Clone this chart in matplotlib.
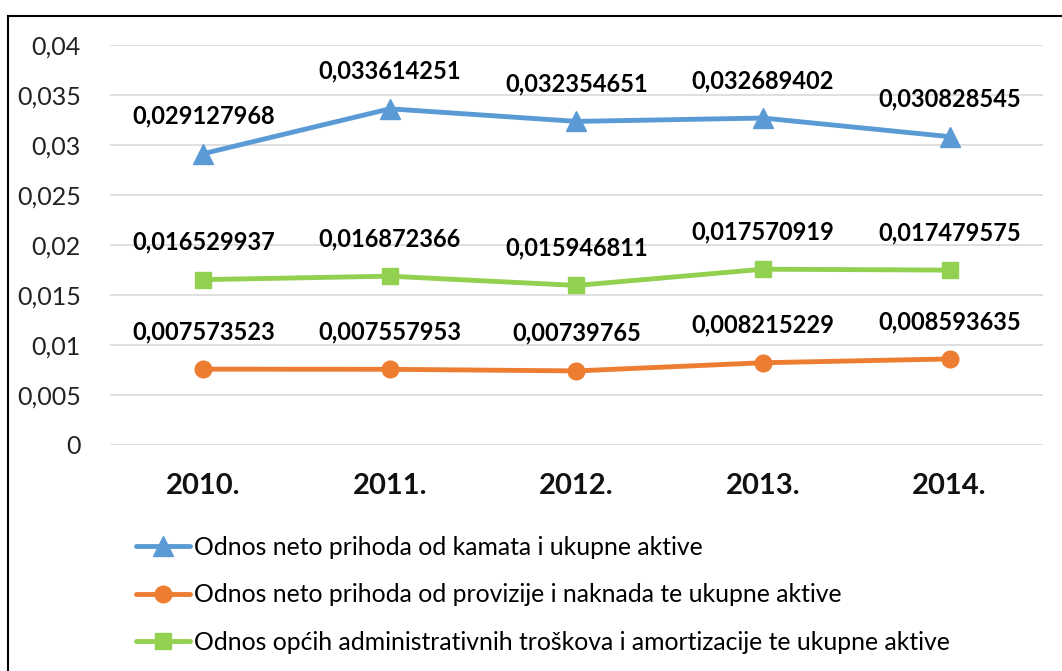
import matplotlib
matplotlib.use("Agg")
import matplotlib.pyplot as plt
from matplotlib.lines import Line2D

years = ["2010.", "2011.", "2012.", "2013.", "2014."]
kamata = [0.029127968, 0.033614251, 0.032354651, 0.032689402, 0.030828545]
provizije = [0.007573523, 0.007557953, 0.00739765, 0.008215229, 0.008593635]
troskovi = [0.016529937, 0.016872366, 0.015946811, 0.017570919, 0.017479575]
names = [
    "Odnos neto prihoda od kamata i ukupne aktive",
    "Odnos neto prihoda od provizije i naknada te ukupne aktive",
    "Odnos općih administrativnih troškova i amortizacije te ukupne aktive",
]
yticks = [0, 0.005, 0.01, 0.015, 0.02, 0.025, 0.03, 0.035, 0.04]
ytick_labels = ["0", "0,005", "0,01", "0,015", "0,02", "0,025", "0,03", "0,035", "0,04"]

plt.rcParams['font.family'] = ['Lato', 'DejaVu Sans']

fig = plt.figure(figsize=(10.62, 6.71), dpi=100)
ax = fig.add_axes([0.1036, 0.337, 0.8784, 0.596])

x = list(range(len(years)))
series = [
    (kamata, "#5B9BD5", "^", 14),
    (provizije, "#ED7D31", "o", 12),
    (troskovi, "#92D050", "s", 12),
]
handles = []
for (vals, col, mk, ms), name in zip(series, names):
    h, = ax.plot(x, vals, color=col, lw=3.5, marker=mk, markersize=ms,
                 solid_capstyle='round', zorder=3, label=name)
    handles.append(h)
    for xi, v in zip(x, vals):
        ax.annotate(str(v).replace('.', ','), (xi, v), xytext=(0, 27),
                    textcoords='offset points', ha='center', va='center',
                    fontsize=17, fontweight='bold', color='#000000')

ax.set_xlim(-0.5, len(years) - 0.5)
ax.set_ylim(0, 0.04)
ax.set_yticks(yticks)
ax.set_yticklabels(ytick_labels, fontsize=18, color='#222222')
ax.set_xticks(x)
ax.set_xticklabels(years, fontsize=21, fontweight='bold', color='#111111')
ax.tick_params(axis='both', length=0)
ax.tick_params(axis='y', pad=21)
ax.tick_params(axis='x', pad=20)
ax.grid(axis='y', color='#D9D9D9', lw=1.2)
ax.set_axisbelow(True)
for s in ax.spines.values():
    s.set_visible(False)

fig.legend(handles=handles, loc='upper left', bbox_to_anchor=(0.128, 0.201),
           frameon=False, fontsize=17.8, handlelength=2.2, handletextpad=0.16,
           labelspacing=0.98, borderaxespad=0, borderpad=0)

# outer border lines (top and left)
fig.add_artist(Line2D([8/1062, 1.0], [1-16/671, 1-16/671], transform=fig.transFigure,
                      color='#000000', lw=1.5))
fig.add_artist(Line2D([8/1062, 8/1062], [0, 1-16/671], transform=fig.transFigure,
                      color='#000000', lw=1.5))

fig.savefig("out.png", dpi=100, facecolor='white')
